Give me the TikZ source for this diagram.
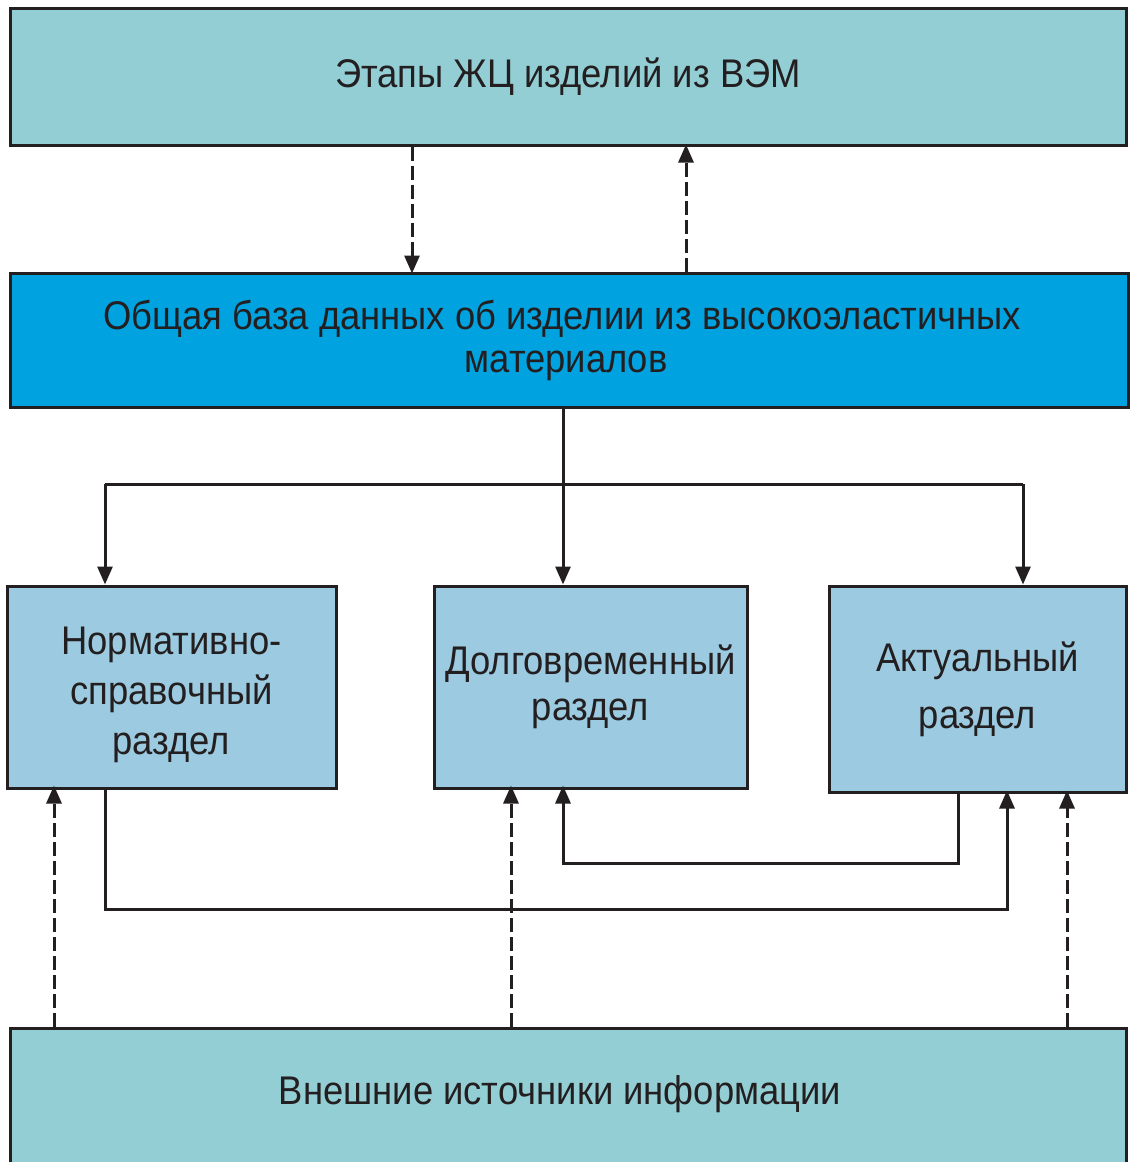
\documentclass[tikz,border=0pt]{standalone}
\usepackage{fontspec}
\setmainfont{Liberation Sans}[FakeStretch=0.91]
\usetikzlibrary{arrows.meta}
\definecolor{ink}{HTML}{231F20}
\definecolor{cyanpale}{HTML}{93CED5}
\definecolor{dbblue}{HTML}{00A3E0}
\definecolor{secblue}{HTML}{9CCBE1}
\begin{document}
\begin{tikzpicture}[x=1pt,y=-1pt,
  box/.style={draw=ink,line width=3pt,rectangle,inner sep=0pt,text=ink,align=center,
    font=\fontsize{40}{45}\selectfont},
  conn/.style={draw=ink,line width=3pt,-{Triangle[width=15pt,length=18pt]}},
  plain/.style={draw=ink,line width=3pt},
  dsh/.style={conn,dash pattern=on 14pt off 5pt}]
\useasboundingbox (0,0) rectangle (1130,1162);
\node[box,fill=cyanpale,minimum width=1116pt,minimum height=137pt] (top) at (568,76.5) {Этапы ЖЦ изделий из ВЭМ};
\node[box,fill=dbblue,minimum width=1118pt,minimum height=134pt] (db) at (569,340) {\raisebox{-5pt}{Общая база данных об изделии из высокоэластичных\hspace*{14pt}}\\\raisebox{-3pt}{материалов\hspace*{6pt}}};
\node[box,fill=secblue,minimum width=329pt,minimum height=202pt,font=\fontsize{40}{50}\selectfont] (n1) at (171.5,687) {\rule{0pt}{44pt}Нормативно-\\справочный\\раздел};
\node[box,fill=secblue,minimum width=313pt,minimum height=202pt,font=\fontsize{40}{46}\selectfont] (n2) at (590.5,687) {Долговременный\\раздел};
\node[box,fill=secblue,minimum width=297pt,minimum height=206pt,font=\fontsize{40}{57}\selectfont] (n3) at (977.5,689) {Актуальный\\раздел};
\node[box,fill=cyanpale,minimum width=1116pt,minimum height=146pt,anchor=north] (ext) at (568,1027) {};
\node[text=ink,font=\fontsize{40}{45}\selectfont] (extlabel) at (560,1094) {Внешние источники информации};
% x positions
\coordinate (xa) at (412,0);
\coordinate (xb) at (686,0);
\coordinate (xc) at (105,0);
\coordinate (xd) at (563,0);
\coordinate (xe) at (1023,0);
\coordinate (xf) at (54,0);
\coordinate (xg) at (511,0);
\coordinate (xh) at (1067,0);
\coordinate (xi) at (958,0);
\coordinate (xj) at (1007,0);
\coordinate (ybus) at (0,484);
\coordinate (yl1) at (0,863);
\coordinate (yl2) at (0,909);
% top <-> db
\draw[dsh] (xa |- top.south) -- ([yshift=-2pt]xa |- db.north);
\draw[dsh] (xb |- db.north) -- ([yshift=2pt]xb |- top.south);
% db -> sections
\draw[plain] (xd |- db.south) -- (xd |- ybus);
\draw[plain] (xc |- ybus) -- (xe |- ybus);
\draw[conn] (xc |- ybus) -- (xc |- n1.north);
\draw[conn] (xd |- ybus) -- (xd |- n2.north);
\draw[conn] (xe |- ybus) -- (xe |- n3.north);
% external sources
\draw[dsh] (xf |- ext.north) -- ([yshift=4pt]xf |- n1.south);
\draw[dsh] (xg |- ext.north) -- ([yshift=4pt]xg |- n2.south);
\draw[dsh] (xh |- ext.north) -- ([yshift=3pt]xh |- n3.south);
% cross links
\draw[conn] (xi |- n3.south) -- (xi |- yl1) -- (xd |- yl1) -- ([yshift=4pt]xd |- n2.south);
\draw[conn] (xc |- n1.south) -- (xc |- yl2) -- (xj |- yl2) -- ([yshift=3pt]xj |- n3.south);
\end{tikzpicture}
\end{document}
